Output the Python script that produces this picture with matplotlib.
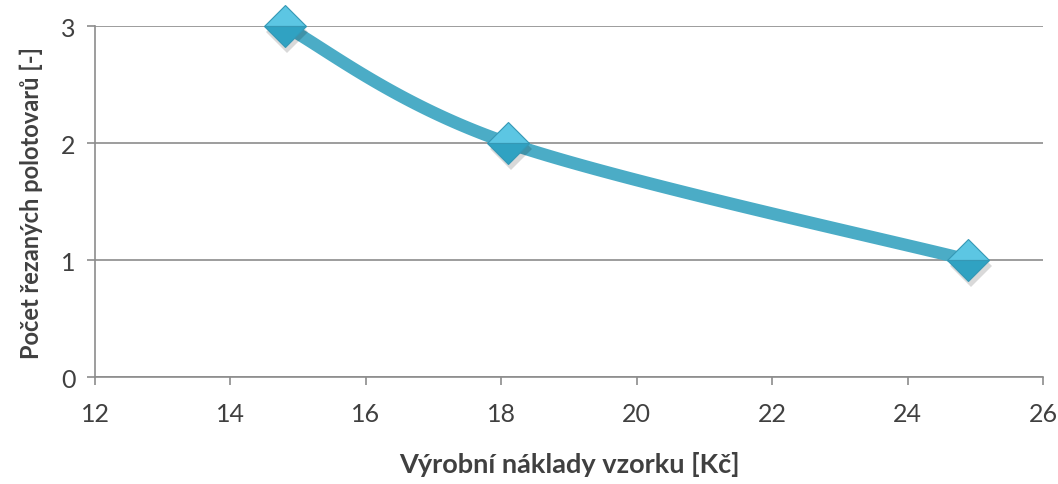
import numpy as np
import matplotlib.pyplot as plt
import matplotlib.transforms as mtransforms

# data
naklady = [14.8, 18.1, 24.9]     # Kč
pocet = [3, 2, 1]

xticks = [12, 14, 16, 18, 20, 22, 24, 26]
yticks = [0, 1, 2, 3]

line_col = '#4BACC6'
grid_col = '#8C8C8C'
text_col = '#404040'

plt.rcParams['font.family'] = ['Lato', 'DejaVu Sans']


def smooth(x, y, n=60):
    # Excel-like smoothed line: cardinal spline through the points
    x = np.asarray(x, float)
    y = np.asarray(y, float)
    px = np.concatenate([[x[0]], x, [x[-1]]])
    py = np.concatenate([[y[0]], y, [y[-1]]])
    xs, ys = [], []
    t = np.linspace(0, 1, n)
    for i in range(1, len(px) - 2):
        p0, p1, p2, p3 = (np.array([px[j], py[j]]) for j in range(i - 1, i + 3))
        c1 = p1 + (p2 - p0) / 6
        c2 = p2 - (p3 - p1) / 6
        b = ((1 - t) ** 3)[:, None] * p1 + (3 * (1 - t) ** 2 * t)[:, None] * c1 \
            + (3 * (1 - t) * t ** 2)[:, None] * c2 + (t ** 3)[:, None] * p2
        xs.extend(b[:, 0])
        ys.extend(b[:, 1])
    return np.array(xs), np.array(ys)


fig = plt.figure(figsize=(10.58, 4.85), dpi=100)
ax = fig.add_axes([0.0898, 0.2206, 0.8960, 0.7237])

ax.set_xlim(12, 26)
ax.set_ylim(0, 3)
ax.set_xticks(xticks)
ax.set_yticks(yticks)

ax.grid(axis='y', color=grid_col, linewidth=1.2)
ax.set_axisbelow(True)
for s in ['top', 'right']:
    ax.spines[s].set_visible(False)
for s in ['left', 'bottom']:
    ax.spines[s].set_color(grid_col)
    ax.spines[s].set_linewidth(1.2)
ax.tick_params(axis='both', direction='out', length=6, width=1.2, color=grid_col,
               labelsize=18, labelcolor=text_col)
ax.tick_params(axis='x', pad=12)
ax.tick_params(axis='y', pad=8)

sx, sy = smooth(naklady, pocet)
ax.plot(sx, sy, color=line_col, linewidth=9, solid_capstyle='butt', zorder=3)

# marker shadow
shadow = ax.transData + mtransforms.ScaledTranslation(2 / 72, -4 / 72, fig.dpi_scale_trans)
ax.plot(naklady, pocet, linestyle='none', marker='D', markersize=21,
        color='#000000', alpha=0.15, markeredgewidth=0, transform=shadow,
        zorder=4, clip_on=False)
ax.plot(naklady, pocet, linestyle='none', marker='D', markersize=21,
        fillstyle='top', markerfacecolor='#5CC6E3', markerfacecoloralt='#30A2C2',
        markeredgecolor='#3598B5', markeredgewidth=0.8, zorder=5, clip_on=False)

ax.set_xlabel('Výrobní náklady vzorku [Kč]', fontsize=19.5, fontweight='bold',
              color=text_col, labelpad=19)
ax.set_ylabel('Počet řezaných polotovarů [-]', fontsize=17, fontweight='bold',
              color=text_col, labelpad=13)

fig.savefig('out.png', dpi=100)
